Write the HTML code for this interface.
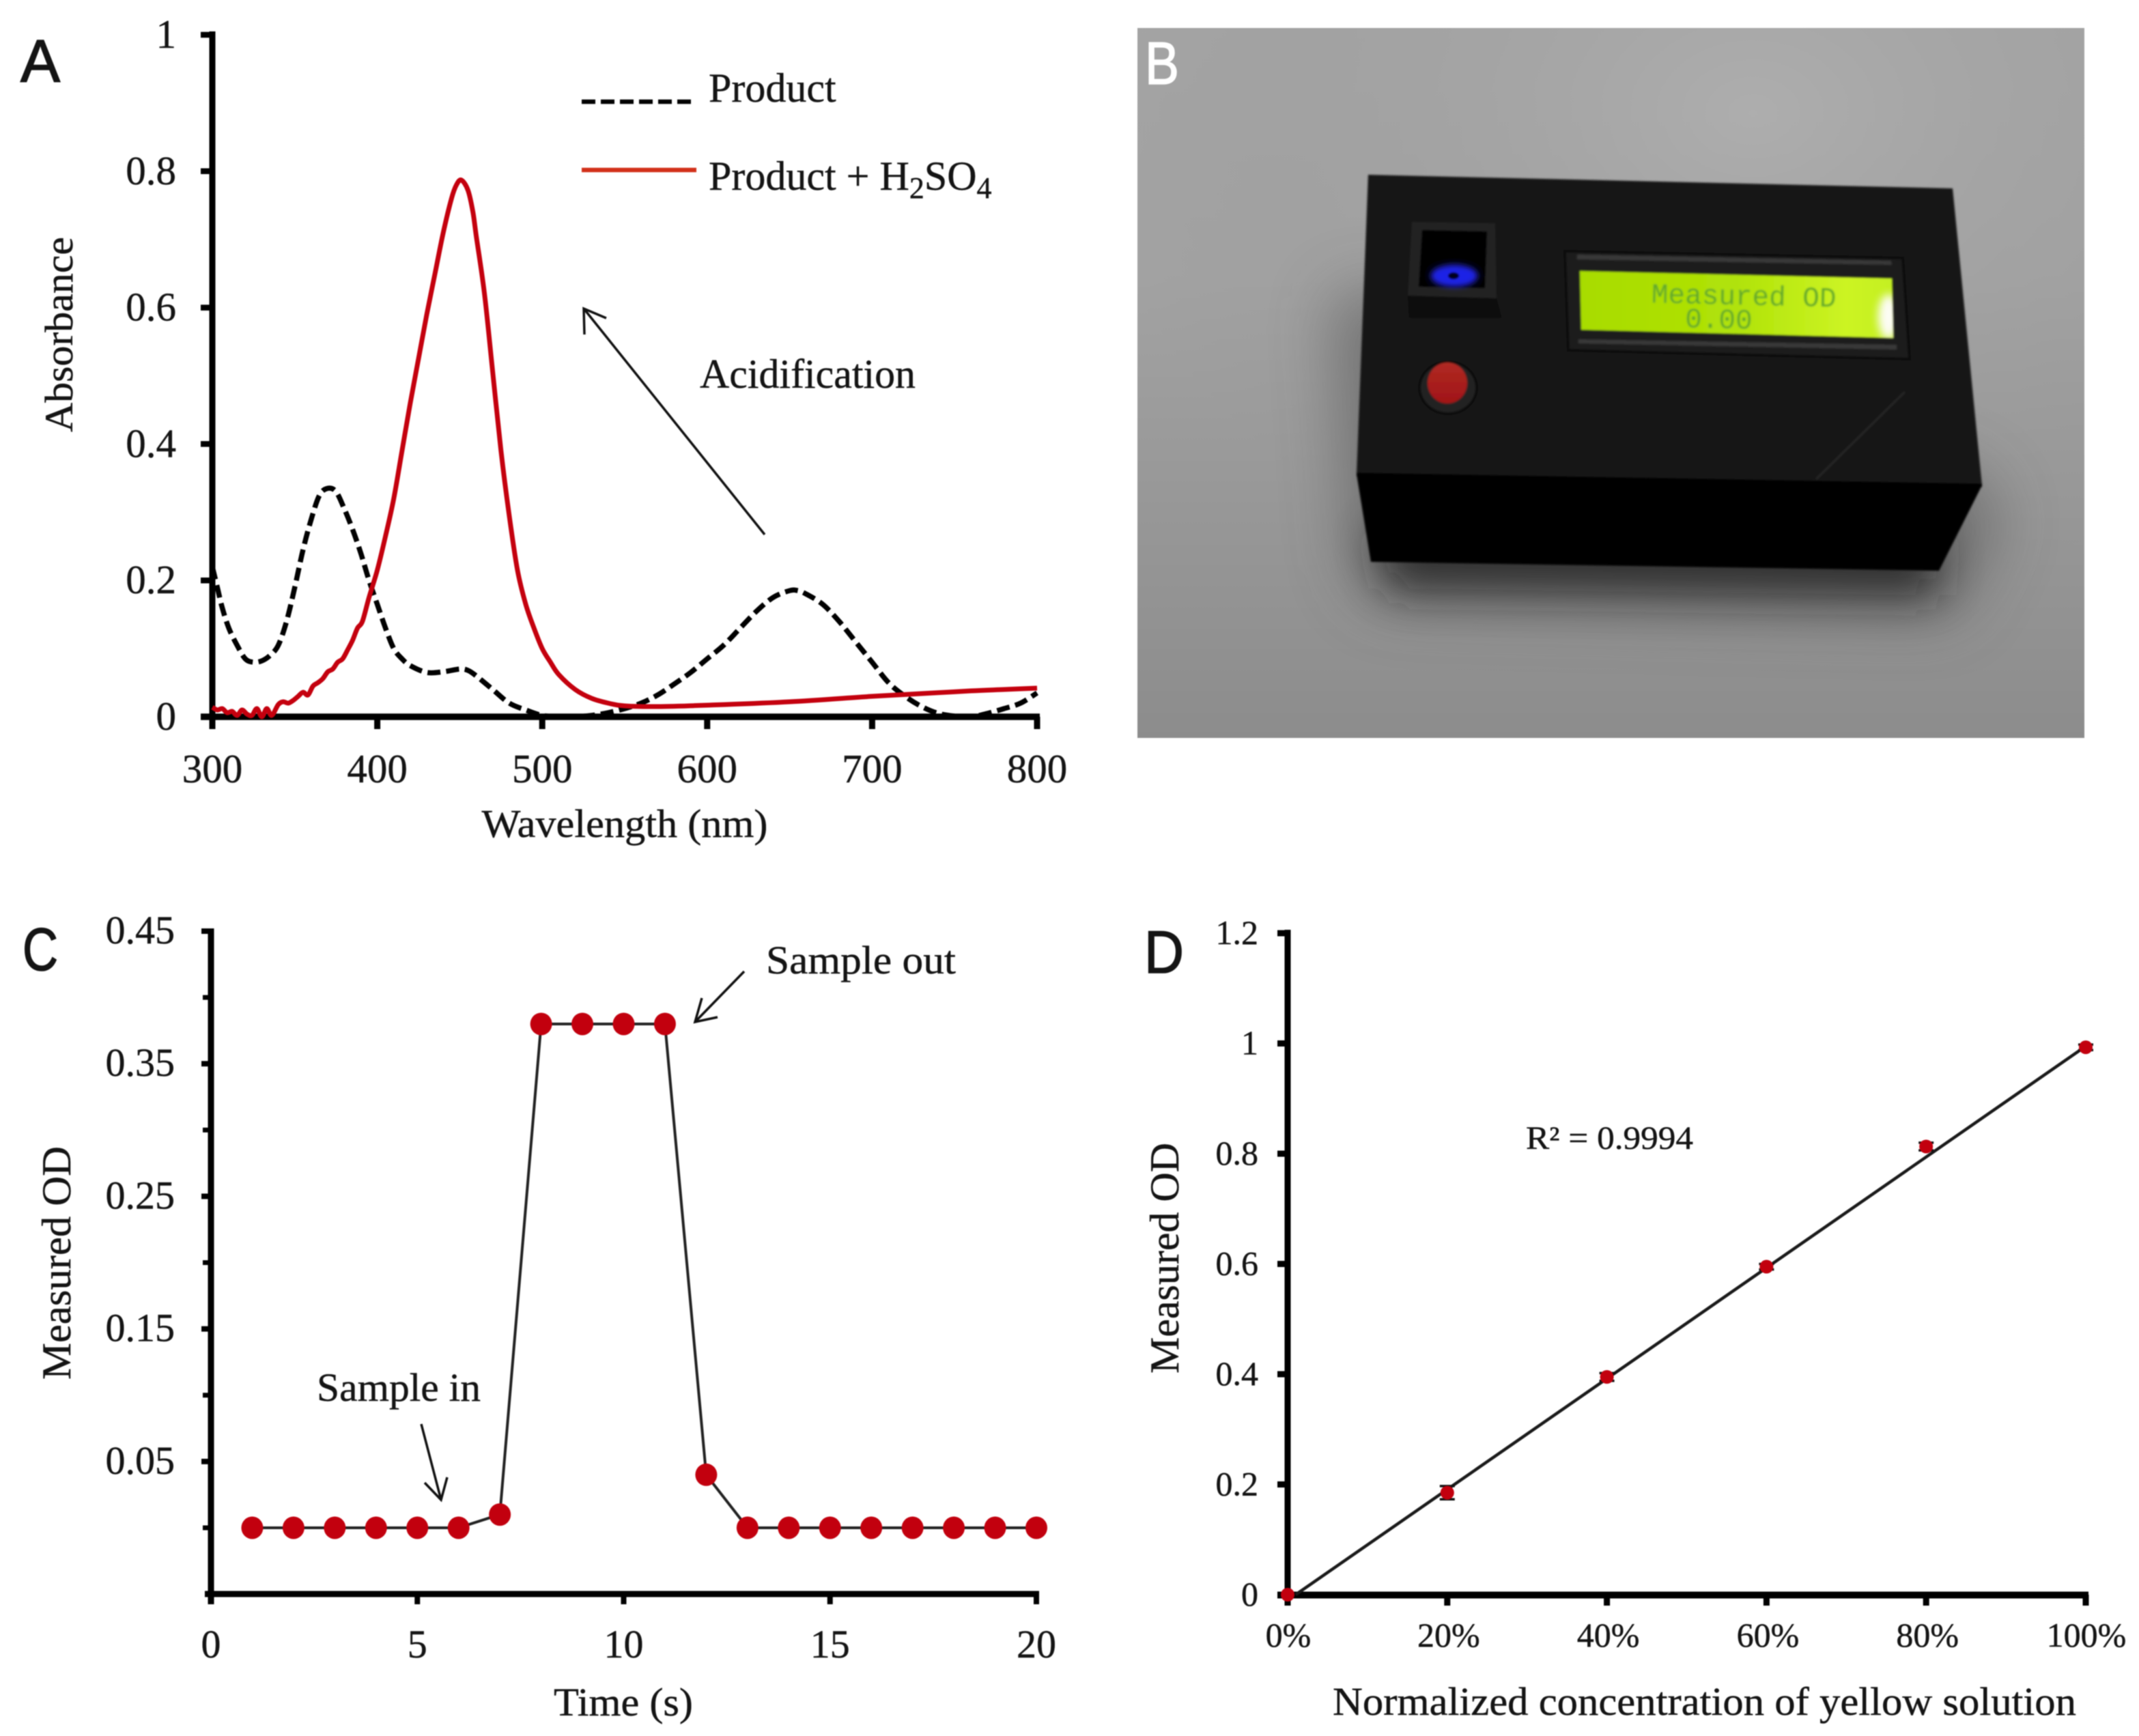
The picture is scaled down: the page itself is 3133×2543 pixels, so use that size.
<!DOCTYPE html>
<html>
<head>
<meta charset="utf-8">
<title>Absorbance device figure</title>
<style>
html,body{margin:0;padding:0;background:#fff;width:3133px;height:2543px;overflow:hidden}
svg{display:block;filter:blur(0.9px)}
text{font-family:"Liberation Serif",serif;fill:#141414;stroke:#141414;stroke-width:.45px}
.letter{font-family:"Liberation Sans",sans-serif;font-size:88px;stroke-width:1.6px}
</style>
</head>
<body>
<svg id="figure" xmlns="http://www.w3.org/2000/svg" width="3133" height="2543" viewBox="0 0 3133 2543">
<defs>
<linearGradient id="bgV" x1="0" y1="0" x2="0" y2="1"><stop offset="0" stop-color="#a4a4a4"/><stop offset=".35" stop-color="#a2a2a2"/><stop offset="1" stop-color="#8c8c8c"/></linearGradient>
<radialGradient id="bgR" cx=".65" cy=".12" r=".7"><stop offset="0" stop-color="#b4b4b4" stop-opacity=".6"/><stop offset="1" stop-color="#8f8f8f" stop-opacity="0"/></radialGradient>
<linearGradient id="lcdG" x1="0" y1="0" x2="1" y2="0"><stop offset="0" stop-color="#a8dc00"/><stop offset=".5" stop-color="#b0e208"/><stop offset=".85" stop-color="#ccf424"/><stop offset="1" stop-color="#c4f020"/></linearGradient>
<linearGradient id="btnG" x1="0" y1="0" x2="0" y2="1"><stop offset="0" stop-color="#b02a22"/><stop offset="1" stop-color="#a01418"/></linearGradient>
<linearGradient id="housingShadeG" x1="0" y1="0" x2="0" y2="1"><stop offset="0" stop-color="#070707"/><stop offset="1" stop-color="#161616"/></linearGradient>
<filter id="sh" x="-30%" y="-30%" width="160%" height="160%"><feGaussianBlur stdDeviation="45"/></filter>
<filter id="sh2" x="-30%" y="-100%" width="160%" height="300%"><feGaussianBlur stdDeviation="32"/></filter>
<filter id="glow" x="-50%" y="-50%" width="200%" height="200%"><feGaussianBlur stdDeviation="4"/></filter>
<filter id="hot" x="-80%" y="-50%" width="260%" height="200%"><feGaussianBlur stdDeviation="6"/></filter>
<filter id="soft" x="-5%" y="-5%" width="110%" height="110%"><feGaussianBlur stdDeviation="1.4"/></filter>
<clipPath id="lcdClip"><polygon points="2314,397 2771,408 2773,495 2316,483"/></clipPath>
<clipPath id="photoClip"><rect x="1666" y="41" width="1387" height="1040"/></clipPath>
</defs>

<!-- Panel A static -->
<g id="panelA">
<text class="letter" x="30" y="120" textLength="58" lengthAdjust="spacingAndGlyphs">A</text>
<line x1="852" y1="149" x2="1020" y2="149" stroke="#000" stroke-width="6.5" stroke-dasharray="20 8"/>
<text x="1038" y="149" font-size="60">Product</text>
<line x1="852" y1="249" x2="1020" y2="249" stroke="#d2301a" stroke-width="6.5"/>
<text x="1038" y="278" font-size="60">Product + H<tspan font-size="44" dy="12">2</tspan><tspan dy="-12">SO</tspan><tspan font-size="44" dy="12">4</tspan></text>
<g fill="none" stroke="#111" stroke-width="3.5">
<line x1="1120" y1="783" x2="855" y2="452"/>
<polyline points="856,490 855,452 888,466"/>
</g>
<text x="1025" y="568" font-size="60" textLength="316" lengthAdjust="spacingAndGlyphs">Acidification</text>
<text x="915" y="1226" font-size="58" text-anchor="middle" textLength="419" lengthAdjust="spacingAndGlyphs">Wavelength (nm)</text>
<text transform="translate(106,490) rotate(-90)" font-size="58" text-anchor="middle" textLength="286" lengthAdjust="spacingAndGlyphs">Absorbance</text>
</g>

<!-- Panel B device illustration -->
<g id="panelB">
<rect x="1666" y="41" width="1387" height="1040" fill="url(#bgV)"/>
<rect x="1666" y="41" width="1387" height="1040" fill="url(#bgR)"/>
<g clip-path="url(#photoClip)">
<polygon points="1950,440 1980,830 2020,880 2860,900 2930,770 2900,700 2010,420" fill="#4a4a4a" opacity=".5" filter="url(#sh)"/>
<polygon points="2012,780 2842,790 2835,872 2035,862" fill="#1a1a1a" opacity=".8" filter="url(#sh2)"/>
</g>
<g filter="url(#soft)">
<polygon points="1987,695 2903,711 2840,836 2008,823" fill="#060606"/>
<polygon points="2004,256 2860,276 2903,711 1987,695" fill="#161616"/>
<line x1="1987" y1="695" x2="2903" y2="711" stroke="#030303" stroke-width="5"/>
<line x1="2660" y1="702" x2="2790" y2="574" stroke="#262626" stroke-width="3"/>
<polygon points="2062,433 2192,437 2204,480 2064,476" fill="url(#housingShadeG)"/>
<polygon points="2068,325 2190,327 2192,437 2062,433" fill="#232323"/>
<polygon points="2083,337 2178,339 2175,422 2078,420" fill="#020206"/>
<ellipse cx="2130" cy="404" rx="34" ry="16" fill="#1c22e6" filter="url(#glow)"/>
<ellipse cx="2129" cy="404" rx="8" ry="5" fill="#05051e"/>
<polygon points="2292,368 2787,378 2797,526 2297,513" fill="#1d1d1d" stroke="#0a0a0a" stroke-width="4"/>
<polygon points="2310,373 2770,382 2771,388 2310,380" fill="#383838"/>
<polygon points="2312,497 2778,505 2778,512 2312,503" fill="#383838"/>
<polygon points="2314,397 2771,408 2773,495 2316,483" fill="url(#lcdG)"/>
<g clip-path="url(#lcdClip)"><ellipse cx="2766" cy="464" rx="15" ry="33" fill="#fdfdf5" filter="url(#hot)"/></g>
<g transform="rotate(1.3 2540 445)">
<text x="2554" y="446" text-anchor="middle" font-size="41" style="font-family:'Liberation Mono',monospace;fill:#5fa82a;stroke:none">Measured OD</text>
<text x="2518" y="481" text-anchor="middle" font-size="41" style="font-family:'Liberation Mono',monospace;fill:#5fa82a;stroke:none">0.00</text>
</g>
<ellipse cx="2121" cy="568" rx="42" ry="38" fill="#242424" stroke="#0b0b0b" stroke-width="4"/>
<ellipse cx="2120" cy="561" rx="29" ry="30" fill="url(#btnG)"/>
</g>
<text class="letter" x="1677" y="123" textLength="50" lengthAdjust="spacingAndGlyphs" style="fill:#fff;stroke:#fff">B</text>
</g>

<!-- Panel C static -->
<g id="panelC">
<text class="letter" x="33" y="1421" textLength="52" lengthAdjust="spacingAndGlyphs">C</text>
<text x="464" y="2052" font-size="58" textLength="240" lengthAdjust="spacingAndGlyphs">Sample in</text>
<text x="1122" y="1426" font-size="58" textLength="278" lengthAdjust="spacingAndGlyphs">Sample out</text>
<g fill="none" stroke="#111" stroke-width="3.5">
<line x1="617" y1="2086" x2="646" y2="2197"/>
<polyline points="622,2172 646,2197 655,2164"/>
</g>
<g fill="none" stroke="#111" stroke-width="3.5">
<line x1="1090" y1="1423" x2="1018" y2="1497"/>
<polyline points="1028,1462 1018,1497 1051,1490"/>
</g>
<text x="913" y="2513" font-size="58" text-anchor="middle" textLength="204" lengthAdjust="spacingAndGlyphs">Time (s)</text>
<text transform="translate(103,1850) rotate(-90)" font-size="60" text-anchor="middle" textLength="342" lengthAdjust="spacingAndGlyphs">Measured OD</text>
</g>

<!-- Panel D static -->
<g id="panelD">
<text class="letter" x="1676" y="1425" textLength="58" lengthAdjust="spacingAndGlyphs">D</text>
<text x="2235" y="1683" font-size="48" textLength="245" lengthAdjust="spacingAndGlyphs">R² = 0.9994</text>
<text x="1952" y="2512" font-size="58" textLength="1089" lengthAdjust="spacingAndGlyphs">Normalized concentration of yellow solution</text>
<text transform="translate(1726,1843) rotate(-90)" font-size="60" text-anchor="middle" textLength="338" lengthAdjust="spacingAndGlyphs">Measured OD</text>
</g>
</svg>

<script>
/* ---- Panel A data ---- */
const wavelengthProduct = [300,303,306,310,315,320,325,330,335,340,345,350,355,360,365,370,375,380,385,390,395,400,405,410,415,420,430,440,450,455,460,470,480,490,500,510,520,530,540,550,560,570,580,590,600,610,620,630,640,650,655,660,670,680,690,700,710,720,730,740,750,760,770,780,790,800];
const absorbanceProduct = [0.22,0.19,0.16,0.13,0.105,0.085,0.08,0.082,0.09,0.105,0.14,0.19,0.245,0.29,0.325,0.335,0.33,0.305,0.275,0.24,0.2,0.165,0.13,0.1,0.085,0.075,0.065,0.066,0.07,0.068,0.06,0.04,0.02,0.01,0.002,0,0,0.002,0.006,0.012,0.02,0.032,0.048,0.065,0.085,0.105,0.13,0.155,0.175,0.185,0.185,0.18,0.165,0.14,0.11,0.08,0.05,0.03,0.015,0.005,0.001,0,0.005,0.012,0.02,0.035];
const wavelengthAcid = [300,303,306,309,312,315,318,321,324,327,330,333,336,340,343,346,349,352,355,358,361,364,367,370,373,376,379,382,385,388,391,395,400,405,410,415,420,425,430,435,440,445,448,451,455,458,460,465,470,475,480,485,490,495,500,505,510,520,530,540,550,570,600,650,700,730,760,780,800];
const absorbanceAcid = [0.014,0.01,0.012,0.006,0.008,0.002,0.01,0.004,0.002,0.012,0,0.012,0.002,0.018,0.022,0.02,0.024,0.03,0.036,0.032,0.045,0.05,0.056,0.066,0.07,0.08,0.085,0.098,0.112,0.13,0.14,0.175,0.215,0.265,0.32,0.39,0.46,0.525,0.59,0.65,0.71,0.76,0.78,0.787,0.772,0.74,0.705,0.62,0.505,0.39,0.295,0.215,0.165,0.13,0.1,0.08,0.062,0.04,0.027,0.02,0.016,0.015,0.017,0.022,0.03,0.034,0.038,0.04,0.042];
const ticksAX = [300,400,500,600,700,800];
const ticksAY = [0,0.2,0.4,0.6,0.8,1];
const ticksAYLabels = ['0','0.2','0.4','0.6','0.8','1'];

/* ---- Panel C data ---- */
const timeValues = [1,2,3,4,5,6,7,8,9,10,11,12,13,14,15,16,17,18,19,20];
const odValues = [0,0,0,0,0,0,0.01,0.38,0.38,0.38,0.38,0.04,0,0,0,0,0,0,0,0];
const ticksCX = [0,5,10,15,20];
const ticksCYMajor = [0.05,0.15,0.25,0.35,0.45];
const ticksCYMajorLabels = ['0.05','0.15','0.25','0.35','0.45'];
const ticksCYMinor = [0,0.1,0.2,0.3,0.4];

/* ---- Panel D data ---- */
const concentrationValues = [0,20,40,60,80,100];
const measuredValues = [0,0.185,0.395,0.595,0.813,0.993];
const errorValues = [0,0.012,0.007,0.005,0.007,0.005];
const fitX = [1,100];
const fitY = [0,0.995];
const ticksDX = [0,20,40,60,80,100];
const ticksDY = [0,0.2,0.4,0.6,0.8,1,1.2];
const ticksDYLabels = ['0','0.2','0.4','0.6','0.8','1','1.2'];

/* ---- axis functions ---- */
function linear(d0,d1,r0,r1){ return v => r0 + (v-d0)*(r1-r0)/(d1-d0); }
const xA = linear(300,800,311,1519), yA = linear(0,1,1050,51);
const xC = linear(0,20,309,1518),   yC = linear(0,0.45,2238,1364);
const xD = linear(0,100,1886,3055), yD = linear(0,1.2,2336,1367);

const NS = 'http://www.w3.org/2000/svg';
function mk(parent, tag, props, txt){
  const e = document.createElementNS(NS, tag);
  for (const k in props) e.setAttribute(k, props[k]);
  if (txt !== undefined) e.textContent = txt;
  parent.appendChild(e);
  return e;
}
function smoothPath(xs, ys){
  const n = xs.length;
  let d = 'M' + xs[0] + ' ' + ys[0];
  for (let i = 0; i < n-1; i++){
    const p0 = Math.max(i-1,0), p2 = i+1, p3 = Math.min(i+2,n-1);
    const c1x = xs[i] + (xs[p2]-xs[p0])/6, c1y = ys[i] + (ys[p2]-ys[p0])/6;
    const c2x = xs[p2] - (xs[p3]-xs[i])/6, c2y = ys[p2] - (ys[p3]-ys[i])/6;
    d += 'C' + c1x + ' ' + c1y + ' ' + c2x + ' ' + c2y + ' ' + xs[p2] + ' ' + ys[p2];
  }
  return d;
}
const pA = document.getElementById('panelA');
const pC = document.getElementById('panelC');
const pD = document.getElementById('panelD');
let el;

/* ---- Panel A ---- */
el = mk(pA,'line',{x1:311,y1:46,x2:311,y2:1068,stroke:'#000','stroke-width':9});


el = mk(pA,'line',{x1:294,y1:1050,x2:1523,y2:1050,stroke:'#000','stroke-width':9.5});


el = mk(pA,'path',{d:smoothPath(wavelengthProduct.map(xA),absorbanceProduct.map(yA)),fill:'none',stroke:'#000','stroke-width':7.5,'stroke-dasharray':'19 8.5','stroke-linejoin':'round'});


el = mk(pA,'path',{d:smoothPath(wavelengthAcid.map(xA),absorbanceAcid.map(yA)),fill:'none',stroke:'#c4000e','stroke-width':7,'stroke-linejoin':'round'});


ticksAX.forEach(v=>{
  el = mk(pA,'line',{x1:xA(v),y1:1050,x2:xA(v),y2:1068,stroke:'#000','stroke-width':9});
  
  
  el = mk(pA,'text',{x:xA(v),y:1146,'font-size':59,'text-anchor':'middle'},String(v));
  
  
});
ticksAY.forEach((v,i)=>{
  el = mk(pA,'line',{x1:294,y1:yA(v),x2:311,y2:yA(v),stroke:'#000','stroke-width':8.5});
  
  
  el = mk(pA,'text',{x:258,y:yA(v)+19,'font-size':59,'text-anchor':'end'},ticksAYLabels[i]);
  
  
});

/* ---- Panel C ---- */
el = mk(pC,'line',{x1:309,y1:1360,x2:309,y2:2350,stroke:'#000','stroke-width':9});


el = mk(pC,'line',{x1:300,y1:2335,x2:1522,y2:2335,stroke:'#000','stroke-width':9});


ticksCX.forEach(v=>{
  el = mk(pC,'line',{x1:xC(v),y1:2335,x2:xC(v),y2:2350,stroke:'#000','stroke-width':8});
  
  
  el = mk(pC,'text',{x:xC(v),y:2428,'font-size':58,'text-anchor':'middle'},String(v));
  
  
});
ticksCYMajor.forEach((v,i)=>{
  el = mk(pC,'line',{x1:295,y1:yC(v),x2:309,y2:yC(v),stroke:'#000','stroke-width':8});
  
  
  el = mk(pC,'text',{x:256,y:yC(v)+18,'font-size':58,'text-anchor':'end'},ticksCYMajorLabels[i]);
  
  
});
ticksCYMinor.forEach(v=>{
  el = mk(pC,'line',{x1:297,y1:yC(v),x2:309,y2:yC(v),stroke:'#000','stroke-width':7});
  
  
});
el = mk(pC,'polyline',{points:odValues.map((v,i)=>xC(timeValues[i])+','+yC(v)).join(' '),fill:'none',stroke:'#222','stroke-width':4});


odValues.forEach((v,i)=>{
  el = mk(pC,'ellipse',{cx:xC(timeValues[i]),cy:yC(v),rx:16,ry:16.5,fill:'#c2000e'});
  
  
});

/* ---- Panel D ---- */
el = mk(pD,'line',{x1:1886,y1:1362,x2:1886,y2:2352,stroke:'#000','stroke-width':9});


el = mk(pD,'line',{x1:1871,y1:2336.5,x2:3059,y2:2336.5,stroke:'#000','stroke-width':10});


ticksDX.forEach(v=>{
  el = mk(pD,'line',{x1:xD(v),y1:2336,x2:xD(v),y2:2352,stroke:'#000','stroke-width':9});
  
  
  el = mk(pD,'text',{x:xD(v)+(v>0&&v<100?2:1),y:2412,'font-size':50,'text-anchor':'middle'},v+'%');
  
  
});
ticksDY.forEach((v,i)=>{
  el = mk(pD,'line',{x1:1871,y1:yD(v),x2:1886,y2:yD(v),stroke:'#000','stroke-width':9});
  
  
  el = mk(pD,'text',{x:1843,y:yD(v)+16,'font-size':50,'text-anchor':'end'},ticksDYLabels[i]);
  
  
});
el = mk(pD,'line',{x1:xD(fitX[0]),y1:yD(fitY[0]),x2:xD(fitX[1]),y2:yD(fitY[1]),stroke:'#1a1a1a','stroke-width':4.5});


measuredValues.forEach((v,i)=>{
  const cx = xD(concentrationValues[i]);
  const top = yD(v+errorValues[i]), bot = yD(v-errorValues[i]);
  if (errorValues[i] > 0) {
    el = mk(pD,'path',{d:'M'+(cx-11)+' '+top+'H'+(cx+11)+'M'+cx+' '+top+'V'+bot+'M'+(cx-11)+' '+bot+'H'+(cx+11),fill:'none',stroke:'#111','stroke-width':3.5});
    
    
  }
  el = mk(pD,'circle',{cx:cx,cy:yD(v),r:10,fill:'#c2000e'});
  
  
});
</script>
</body>
</html>
